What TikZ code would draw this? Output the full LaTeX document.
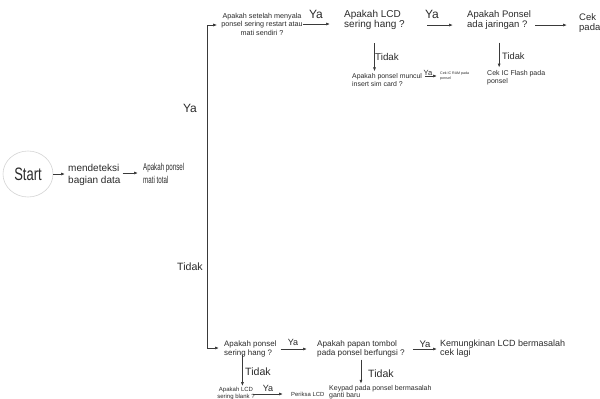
\documentclass[tikz,border=0pt]{standalone}
\usepackage{fontspec}
\setmainfont{Liberation Sans}
\newfontfamily\startfont[FakeStretch=0.72]{Liberation Sans}
\newfontfamily\narrowsans[FakeStretch=0.62]{Liberation Sans}
\usetikzlibrary{arrows.meta,shapes.geometric,calc}
\definecolor{ink}{HTML}{2B2B2B}
\definecolor{wire}{HTML}{3A3A3A}
\definecolor{rim}{HTML}{D6D6D6}
\newcommand\setfs[2]{\fontsize{#1}{#2}\selectfont}
\tikzset{
  txt/.style={inner sep=0pt, text=ink, align=left},
  ctxt/.style={inner sep=0pt, text=ink, align=center},
  lbl/.style={inner sep=0pt, text=ink},
  wireline/.style={draw=wire, line width=0.7pt},
  arr/.style={wireline, -{Latex[length=4pt,width=3pt]}},
}
\begin{document}
\begin{tikzpicture}[x=1pt,y=-1pt]
\useasboundingbox (0,0) rectangle (600,399);
\fill[white] (0,0) rectangle (600,399);

% start and first steps
\node[ellipse, draw=rim, line width=0.6pt, minimum width=50pt, minimum height=46pt,
      inner sep=0pt, text=ink, font=\startfont\setfs{18}{20}] (start) at (28,174) {Start};
\node[txt, anchor=west, font=\setfs{10}{12}] (detect) at (68,175) {mendeteksi\\bagian data};
\node[txt, anchor=west, font=\narrowsans\setfs{10}{13}] (mati) at (143,173) {Apakah ponsel\\mati total};

% trunk splitting into the two branches
\coordinate (ttop) at (207,25);
\coordinate (tbot) at (207,348);
\node[lbl, font=\setfs{12}{14}] (yaL) at (190,108) {Ya};
\node[lbl, font=\setfs{10.6}{12}] (tidakL) at (190,267) {Tidak};

% upper branch
\node[ctxt, font=\setfs{7.2}{8.5}] (q1) at (262,24) {Apakah setelah menyala\\ponsel sering restart atau\\mati sendiri ?};
\node[lbl, font=\setfs{12}{14}] (ya1) at (316,14) {Ya};
\node[txt, anchor=west, font=\setfs{10}{10.5}] (lcd) at (344,20) {Apakah LCD\\sering hang ?};
\node[lbl, font=\setfs{12}{14}] (ya2) at (432,14) {Ya};
\node[txt, anchor=west, font=\setfs{9.5}{10}] (ponsel) at (467,20) {Apakah Ponsel\\ada jaringan ?};
\node[txt, anchor=west, font=\setfs{9.5}{10}] (cek) at (579,23) {Cek\\pada};

\node[lbl, anchor=west, font=\setfs{9.8}{11}] (tidak1) at (375,57) {Tidak};
\node[txt, anchor=west, font=\setfs{6.9}{7.8}] (q2) at (352,80) {Apakah ponsel muncul\\insert sim card ?};
\node[lbl, font=\setfs{7.5}{9}] (ya3) at (428,73) {Ya};
\node[txt, anchor=west, font=\setfs{3.6}{5.5}] (ram) at (440,76) {Cek IC RAM pada\\ponsel};
\node[lbl, anchor=west, font=\setfs{9.3}{11}] (tidak2) at (502,56) {Tidak};
\node[txt, anchor=west, font=\setfs{7}{8}] (flash) at (487,78) {Cek IC Flash pada\\ponsel};

% lower branch
\node[txt, anchor=west, font=\setfs{7.9}{8.5}] (hang) at (224,349) {Apakah ponsel\\sering hang ?};
\node[lbl, font=\setfs{9}{11}] (ya4) at (293,342) {Ya};
\node[txt, anchor=west, font=\setfs{8.2}{9}] (papan) at (317,349) {Apakah papan tombol\\pada ponsel berfungsi ?};
\node[lbl, font=\setfs{9.5}{11}] (ya5) at (425,344) {Ya};
\node[txt, anchor=west, font=\setfs{9}{8.8}] (kemung) at (440,349) {Kemungkinan LCD bermasalah\\cek lagi};

\node[lbl, font=\setfs{10.6}{12}] (tidak3) at (258,372) {Tidak};
\node[ctxt, font=\setfs{6}{6.6}] (blank) at (236,393.4) {Apakah LCD\\sering blank ?};
\node[lbl, font=\setfs{9}{11}] (ya6) at (268,388) {Ya};
\node[txt, anchor=west, font=\setfs{5.9}{7}] (periksa) at (291,394) {Periksa LCD};
\node[lbl, font=\setfs{10.6}{12}] (tidak4) at (381,374) {Tidak};
\node[txt, anchor=west, font=\setfs{7}{7.5}] (keypad) at (329,392) {Keypad pada ponsel bermasalah\\ganti baru};

% connectors
\draw[arr, shorten <=0pt, shorten >=3pt] (start.east) -- (start.east -| detect.west);
\draw[arr, shorten <=2pt, shorten >=5pt] (detect.east |- mati.west) -- (mati.west);

\draw[wireline] (ttop) -- (tbot);
\draw[arr, shorten >=4pt] (ttop) -- (ttop -| q1.west);
\draw[arr, shorten >=5pt] (tbot) -- (tbot -| hang.west);

\draw[arr, shorten >=14pt] (q1.east) -- (q1.east -| lcd.west);
\coordinate (lcdout) at ($(lcd.east)!0.5!(lcd.south east)$);
\draw[arr, shorten <=22pt, shorten >=14pt] (lcdout) -- (lcdout -| ponsel.west);
\draw[arr, shorten <=4pt, shorten >=12pt] (ponsel.east |- lcdout) -- (lcdout -| cek.west);
\draw[arr, shorten <=13pt, shorten >=2pt] (lcd.south) -- (lcd.south |- q2.north);
\draw[arr, shorten <=3pt, shorten >=3pt] (q2.east |- ram.west) -- (ram.west);
\draw[arr, shorten <=13pt, shorten >=3pt] (ponsel.south) -- (ponsel.south |- flash.north);

\draw[arr, shorten <=4pt, shorten >=10pt] (hang.east) -- (hang.east -| papan.west);
\draw[arr, shorten <=8pt, shorten >=3pt] (papan.east |- kemung.west) -- (kemung.west);
\coordinate (hangdown) at ($(hang.south)!0.3!(hang.south west)$);
\draw[arr, shorten <=-2pt, shorten >=1pt] (hangdown) -- (hangdown |- blank.north);
\draw[arr, shorten <=2pt, shorten >=1pt] (papan.south) -- (papan.south |- keypad.north);
\draw[arr, shorten <=-2pt, shorten >=8pt] (blank.east |- periksa.west) -- (periksa.west);
\end{tikzpicture}
\end{document}
